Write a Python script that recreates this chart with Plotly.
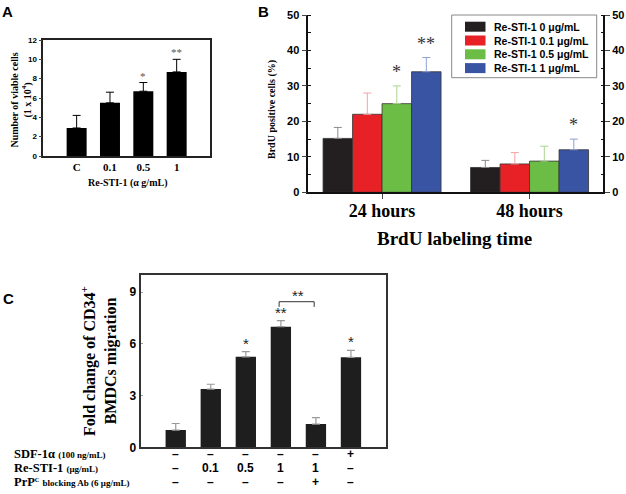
import plotly.graph_objects as go

W, H = 626, 494
SERIF = "Liberation Serif"
SANS = "Liberation Sans"

# ---------------- Panel A data ----------------
a_cats = ["C", "0.1", "0.5", "1"]
a_vals = [2.9, 5.5, 6.7, 8.7]
a_err_top = [4.2, 6.6, 7.6, 10.0]
a_sig = ["", "", "*", "**"]

# ---------------- Panel B data ----------------
b_groups = ["24 hours", "48 hours"]
b_names = ["Re-STI-1 0 μg/mL", "Re-STI-1 0.1 μg/mL", "Re-STI-1 0.5 μg/mL", "Re-STI-1 1 μg/mL"]
b_vals_0 = [15.2, 7.0]
b_vals_01 = [22.0, 8.0]
b_vals_05 = [25.0, 8.8]
b_vals_1 = [34.0, 12.0]
b_err_0 = [18.3, 9.0]
b_err_01 = [28.0, 11.2]
b_err_05 = [30.0, 13.0]
b_err_1 = [38.0, 15.0]
b_sig_05 = ["*", ""]
b_sig_1 = ["**", "*"]
b_colors = ["#231f20", "#e82127", "#6cbd45", "#3a54a4"]
b_err_colors = ["#8a8a8a", "#f3a3a3", "#a9d68f", "#8d9fd2"]

# ---------------- Panel C data ----------------
c_vals = [1.0, 3.38, 5.25, 7.0, 1.35, 5.22]
c_err_top = [1.38, 3.66, 5.55, 7.35, 1.72, 5.62]
c_sig = ["", "", "*", "**", "", "*"]
c_sdf = ["–", "–", "–", "–", "–", "+"]
c_sti = ["–", "0.1", "0.5", "1", "1", "–"]
c_prp = ["–", "–", "–", "–", "+", "–"]
c_row_labels = [
    "<b>SDF-1α</b> <b><span style='font-size:9px'>(100 ng/mL)</span></b>",
    "<b>Re-STI-1</b> <b><span style='font-size:9px'>(μg/mL)</span></b>",
    "<b>PrP<span style='font-size:9px'><sup>C</sup></span></b> <b><span style='font-size:9px'>blocking Ab (6 μg/mL)</span></b>",
]


def px(x):
    return x / W


def py(y):
    return 1 - y / H


fig = go.Figure()

# Panel A bars
fig.add_trace(go.Bar(
    x=list(range(len(a_cats))), y=a_vals, width=0.6,
    marker=dict(color="black", line=dict(width=0)),
    error_y=dict(type="data", symmetric=False,
                 array=[t - v for t, v in zip(a_err_top, a_vals)],
                 arrayminus=[0] * len(a_vals), color="black", thickness=1, width=4),
    xaxis="x", yaxis="y", showlegend=False,
))

# Panel B bars
b_vals = [b_vals_0, b_vals_01, b_vals_05, b_vals_1]
b_errs = [b_err_0, b_err_01, b_err_05, b_err_1]
for name, vals, errs, col, ecol in zip(b_names, b_vals, b_errs, b_colors, b_err_colors):
    fig.add_trace(go.Bar(
        x=b_groups, y=vals, name=name, showlegend=False,
        marker=dict(color=col, line=dict(width=0.8, color="#333333")),
        error_y=dict(type="data", symmetric=False,
                     array=[t - v for t, v in zip(errs, vals)],
                     arrayminus=[0] * len(vals), color=ecol, thickness=1, width=4),
        xaxis="x2", yaxis="y2", offsetgroup=name,
    ))
# dummy for right axis
fig.add_trace(go.Scatter(x=[b_groups[0]], y=[0], mode="markers", marker=dict(opacity=0),
                         xaxis="x2", yaxis="y4", showlegend=False, hoverinfo="skip"))

# Panel C bars
fig.add_trace(go.Bar(
    x=list(range(len(c_vals))), y=c_vals, width=0.58,
    marker=dict(color="#1e1e1e", line=dict(width=0)),
    error_y=dict(type="data", symmetric=False,
                 array=[t - v for t, v in zip(c_err_top, c_vals)],
                 arrayminus=[0] * len(c_vals), color="#9a9a9a", thickness=1.2, width=4),
    xaxis="x3", yaxis="y3", showlegend=False,
))

ann = []
shapes = []


def A(**kw):
    kw.setdefault("showarrow", False)
    kw.setdefault("xanchor", "center")
    kw.setdefault("yanchor", "middle")
    ann.append(kw)


# Panel letters
for lbl, x, y in [("A", 7, 11), ("B", 263, 11), ("C", 8, 298)]:
    A(text="<b>" + lbl + "</b>", x=px(x), y=py(y), xref="paper", yref="paper",
      font=dict(family=SANS, size=15, color="black"))

# Panel A stars
for i, (s, t) in enumerate(zip(a_sig, a_err_top)):
    if s:
        A(text=s, x=i, y=t, xref="x", yref="y", yanchor="bottom", yshift=-1,
          font=dict(family=SERIF, size=11, color="#555555"))
# Panel A titles
A(text="<b>Number of viable cells<br>(1 x 10<sup>4</sup>)</b>", x=px(20.5), y=py(100),
  xref="paper", yref="paper", textangle=-90,
  font=dict(family=SERIF, size=10, color="black"))
A(text="<b>Re-STI-1 (α g/mL)</b>", x=px(127), y=py(183), xref="paper", yref="paper",
  font=dict(family=SERIF, size=10, color="black"))

# Panel B stars
for gi, g in enumerate(b_groups):
    for si, sig in [(2, b_sig_05), (3, b_sig_1)]:
        if sig[gi]:
            xoff = (si - 1.5) * 0.2
            A(text=sig[gi], x=gi + xoff, y=b_errs[si][gi], xref="x2", yref="y2",
              yanchor="bottom", yshift=2, font=dict(family=SERIF, size=18, color="#333"))
A(text="<b>BrdU positive cells (%)</b>", x=px(272), y=py(110), xref="paper", yref="paper",
  textangle=-90, font=dict(family=SERIF, size=10, color="black"))
A(text="<b>BrdU labeling time</b>", x=px(455), y=py(238), xref="paper", yref="paper",
  font=dict(family=SERIF, size=19, color="black"))

# Panel B legend box (drawn in paper space)
leg_x0, leg_x1, leg_y0, leg_y1 = 451.7, 596.7, 15, 77.7
shapes.append(dict(type="rect", xref="paper", yref="paper", x0=px(leg_x0), x1=px(leg_x1),
                   y0=py(leg_y1), y1=py(leg_y0), fillcolor="white",
                   line=dict(color="#888", width=1), layer="above"))
leg_row_y = [26.7, 40.5, 54.3, 68.1]
for name, col, ry in zip(b_names, b_colors, leg_row_y):
    shapes.append(dict(type="rect", xref="paper", yref="paper", x0=px(465), x1=px(485.5),
                       y0=py(ry + 5), y1=py(ry - 5), fillcolor=col, line=dict(width=0),
                       layer="above"))
    A(text="<b>" + name + "</b>", x=px(491.5), y=py(ry), xref="paper", yref="paper",
      xanchor="left", font=dict(family=SANS, size=10.5, color="black"))

# Panel C stars
for i, (s, t) in enumerate(zip(c_sig, c_err_top)):
    if s:
        A(text=s, x=i, y=t, xref="x3", yref="y3", yanchor="bottom", yshift=-2,
          font=dict(family=SANS, size=15, color="#222"))
# bracket between bars 3 and 4
br_y = max(c_err_top[3], c_err_top[4]) + 1.1
A(text="**", x=3.5, y=br_y, xref="x3", yref="y3", yanchor="bottom", yshift=-4,
  font=dict(family=SANS, size=15, color="#222"))
shapes.append(dict(type="path", xref="x3", yref="y3",
                   path=f"M 2.95,{br_y - 0.3} L 2.95,{br_y} L 3.95,{br_y} L 3.95,{br_y - 0.3}",
                   line=dict(color="#333", width=1)))
A(text="<b>Fold change of CD34<sup>+</sup><br>BMDCs migration</b>", x=px(99), y=py(361),
  xref="paper", yref="paper", textangle=-90,
  font=dict(family=SERIF, size=16, color="black"))
# Panel C table
row_y = [454, 467.7, 481.5]
for rl, ry in zip(c_row_labels, row_y):
    A(text=rl, x=px(12), y=py(ry), xref="paper", yref="paper", xanchor="left",
      font=dict(family=SERIF, size=12.5, color="black"))
for row, ry in zip([c_sdf, c_sti, c_prp], row_y):
    for i, v in enumerate(row):
        A(text="<b>" + v + "</b>", x=i, y=py(ry), xref="x3", yref="paper",
          font=dict(family=SANS, size=12, color="black"))

fig.update_layout(
    width=W, height=H, margin=dict(l=0, r=0, t=0, b=0, autoexpand=False),
    paper_bgcolor="white", plot_bgcolor="white",
    barmode="group", bargap=0.2, bargroupgap=0, showlegend=False,
    annotations=ann, shapes=shapes,
    xaxis=dict(domain=[px(43.3), px(210)], range=[-1, 4], tickvals=list(range(len(a_cats))),
               ticktext=["<b>" + c + "</b>" for c in a_cats], ticks="", showline=True,
               linecolor="#222", linewidth=1.5, mirror=True, showgrid=False, zeroline=False,
               tickfont=dict(family=SERIF, size=11, color="black"), anchor="y", automargin=False),
    yaxis=dict(domain=[py(156), py(40)], range=[0, 12], dtick=2, ticks="outside", ticklen=3,
               tickwidth=1, showline=True, linecolor="#222", linewidth=1.5, mirror=True,
               showgrid=False, zeroline=False, tickformat="d", automargin=False,
               tickfont=dict(family=SANS, size=8, color="black", weight="bold"), anchor="x"),
    xaxis2=dict(domain=[px(308.3), px(603.3)], range=[-0.5, 1.5], type="category",
                ticks="outside", ticklen=5, tickwidth=1.2, showline=True, linecolor="#111",
                linewidth=1.5, showgrid=False, zeroline=False, anchor="y2", automargin=False,
                tickvals=b_groups, ticktext=["<b>" + g + "</b>" for g in b_groups],
                ticklabelstandoff=-4,
                tickfont=dict(family=SERIF, size=18, color="black")),
    yaxis2=dict(domain=[py(192.3), py(15)], range=[0, 50], dtick=10, ticks="outside", ticklen=5,
                tickwidth=1.2, showline=True, linecolor="#111", linewidth=1.5, showgrid=False,
                zeroline=False, anchor="x2", automargin=False,
                minor=dict(dtick=5, ticks="inside", ticklen=3, tickwidth=1, tickcolor="#111"),
                tickfont=dict(family=SANS, size=11, color="black", weight="bold")),
    yaxis4=dict(overlaying="y2", side="right", range=[0, 50], dtick=10, ticks="outside", ticklen=5,
                tickwidth=1.2, showline=True, linecolor="#111", linewidth=1.5, showgrid=False,
                zeroline=False, anchor="x2", automargin=False,
                minor=dict(dtick=5, ticks="inside", ticklen=3, tickwidth=1, tickcolor="#111"),
                tickfont=dict(family=SANS, size=11, color="black", weight="bold")),
    xaxis3=dict(domain=[px(140.7), px(386)], range=[-1, 6], showticklabels=False, ticks="",
                showline=True, linecolor="#333", linewidth=2, mirror=True, showgrid=False,
                zeroline=False, anchor="y3", automargin=False),
    yaxis3=dict(domain=[py(447.3), py(275)], range=[0, 10], tickvals=[0, 3, 6, 9], ticks="inside",
                ticklen=2, tickcolor="#999", showline=True, linecolor="#333", linewidth=2,
                mirror=True, showgrid=False, zeroline=False, anchor="x3", automargin=False,
                tickfont=dict(family=SANS, size=12, color="black", weight="bold")),
)

fig.write_html("out.html", config={"displayModeBar": False},
               post_script="document.body.style.margin='0px';")
